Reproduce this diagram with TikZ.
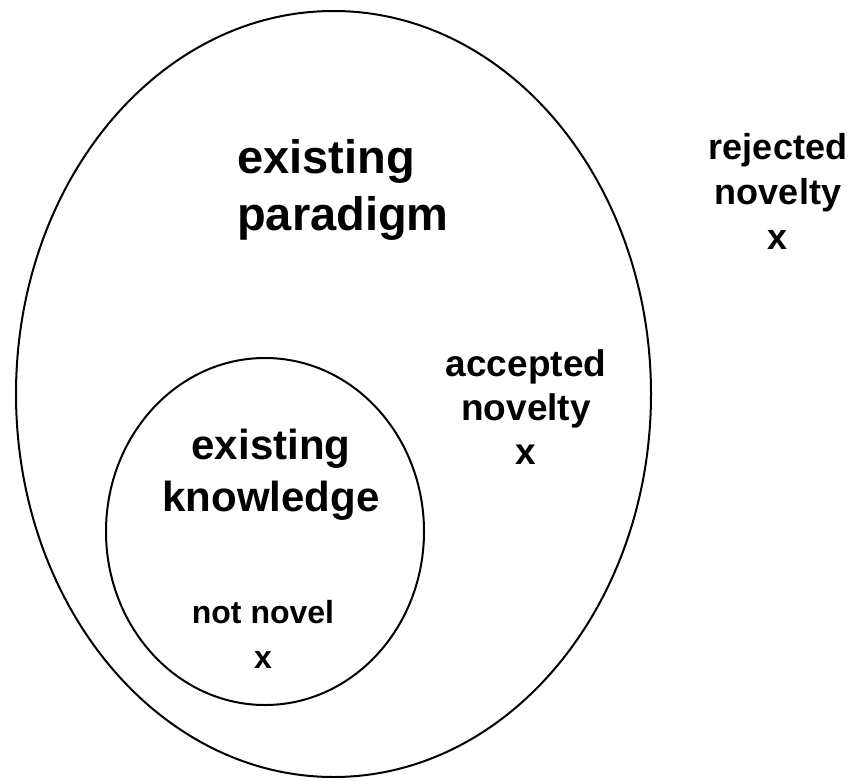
\documentclass[tikz,border=0pt]{standalone}
\usepackage{fontspec}
\setmainfont{Liberation Sans}
\begin{document}
\begin{tikzpicture}[x=1pt,y=-1pt,
  ring/.style={draw=black,line width=2pt},
  lbl/.style={font=\bfseries, align=center, inner sep=0pt, text=black}]
\useasboundingbox (0,0) rectangle (851,781);
% outer region: the paradigm
\draw[ring] (333.5,394) ellipse [x radius=317.5, y radius=383];
% inner region: existing knowledge
\draw[ring] (265,531.5) ellipse [x radius=159, y radius=173.5];
% labels
\node[lbl, align=left, anchor=west, font=\bfseries\fontsize{47}{57}\selectfont] (paradigm) at (237,190) {existing\\paradigm};
\node[lbl, font=\bfseries\fontsize{36}{45}\selectfont] (rejected) at (778,191) {rejected\\novelty\\x};
\node[lbl, font=\bfseries\fontsize{37}{44}\selectfont] (accepted) at (526,407) {accepted\\novelty\\x};
\node[lbl, font=\bfseries\fontsize{42}{52}\selectfont] (knowledge) at (271,475) {existing\\knowledge};
\node[lbl, font=\bfseries\fontsize{32}{45}\selectfont] (notnovel) at (263,634) {not novel\\x};
\end{tikzpicture}
\end{document}
